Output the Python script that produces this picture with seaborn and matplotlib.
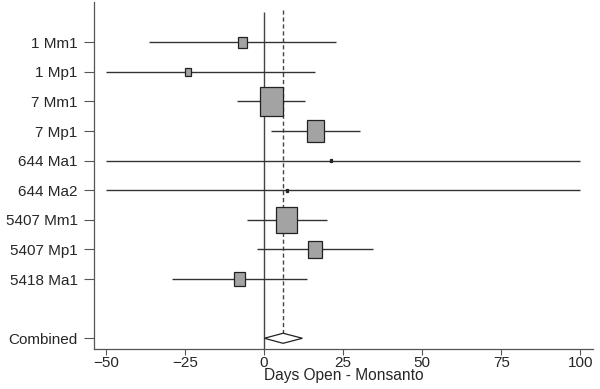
import numpy as np
import pandas as pd
import seaborn as sns
import matplotlib.pyplot as plt
from matplotlib.patches import Rectangle, Polygon

# study data
studies = ["1 Mm1", "1 Mp1", "7 Mm1", "7 Mp1", "644 Ma1", "644 Ma2",
           "5407 Mm1", "5407 Mp1", "5418 Ma1"]
estimate = [-6.7, -23.9, 2.2, 16.2, 21.2, 7.2, 7.2, 16.2, -7.8]
ci_low = [-36.3, -50.0, -8.5, 2.2, -50.0, -50.0, -5.3, -2.1, -29.0]
ci_high = [22.7, 16.2, 13.0, 30.3, 100.0, 100.0, 19.8, 34.5, 13.5]
weight = [4.7, 2.1, 31.0, 16.9, 0.2, 0.2, 25.8, 11.0, 8.0]

combined_label = "Combined"
combined_est = 6.0
combined_low = 0.1
combined_high = 12.1

df = pd.DataFrame({"study": studies, "est": estimate, "lo": ci_low,
                   "hi": ci_high, "w": weight})
df["row"] = np.arange(1, len(df) + 1)
combined_row = len(df) + 2

sns.set_theme(style="ticks")
plt.rcParams["font.family"] = ["Liberation Sans", "DejaVu Sans"]

fig = plt.figure(figsize=(6, 3.89), dpi=100)
ax = fig.add_axes([0.157, 0.103, 0.831, 0.892])

line_col = "#333333"
ax.vlines(0, -0.03, 11.4, color="#444444", lw=1.0, zorder=1)
ax.vlines(combined_est, -0.08, 11.17, color="#444444", lw=1.0,
          linestyles=(0, (3, 2)), zorder=1)

ax.hlines(df["row"], df["lo"], df["hi"], color=line_col, lw=1.0, zorder=2)

# weighted boxes: side in px proportional to sqrt(weight)
xscale = 3.166   # px per x unit
yscale = 29.6    # px per row
for _, r in df.iterrows():
    side_px = max(4.13 * np.sqrt(r["w"]), 2.2)
    wd = side_px / xscale
    ht = side_px * 1.26 / yscale
    fc = "#a3a3a3" if r["w"] > 1 else "#222222"
    ax.add_patch(Rectangle((r["est"] - wd / 2, r["row"] - ht / 2), wd, ht,
                           facecolor=fc, edgecolor="#222222", lw=0.9, zorder=3))

dh = 0.17
ax.add_patch(Polygon([[combined_low, combined_row], [combined_est, combined_row - dh],
                      [combined_high, combined_row], [combined_est, combined_row + dh]],
                     closed=True, facecolor="white", edgecolor="#222222", lw=0.9,
                     zorder=3))

ax.set_xlim(-53.7, 103.9)
ax.set_ylim(11.36, -0.36)
ax.set_xticks([-50, -25, 0, 25, 50, 75, 100])
ax.set_yticks(list(df["row"]) + [combined_row])
ax.set_yticklabels(studies + [combined_label])
ax.set_xlabel("Days Open - Monsanto", fontsize=11.2, labelpad=-1)
ax.tick_params(axis="x", labelsize=11, length=4, width=0.8, color="#555555", pad=1)
ax.tick_params(axis="y", labelsize=11, length=7, width=0.8, color="#555555", pad=5)
for s in ["top", "right"]:
    ax.spines[s].set_visible(False)
for s in ["left", "bottom"]:
    ax.spines[s].set_color("#555555")
    ax.spines[s].set_linewidth(0.9)

fig.savefig("out.png", dpi=100)
